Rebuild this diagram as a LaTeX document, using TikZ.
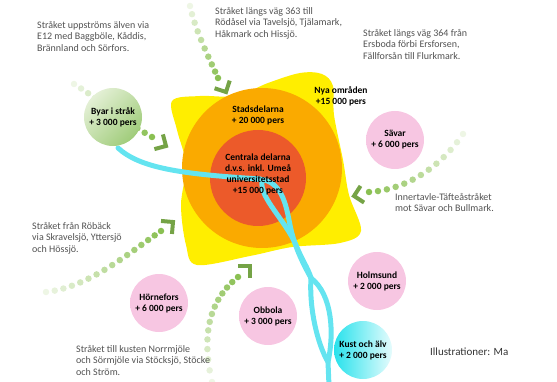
\documentclass[tikz,border=0pt]{standalone}
\usepackage{fontspec}
\setmainfont{Carlito}
\usetikzlibrary{calc}

\definecolor{sunyellow}{RGB}{255,238,0}
\definecolor{cityorange}{RGB}{250,170,0}
\definecolor{corered}{RGB}{236,90,42}
\definecolor{rivercyan}{RGB}{100,228,240}
\definecolor{dotgreen}{RGB}{138,192,82}
\definecolor{villpink}{RGB}{247,198,226}
\definecolor{kustcyan}{RGB}{40,226,236}
\definecolor{byarlight}{RGB}{228,240,214}
\definecolor{byargreen}{RGB}{160,204,122}
\definecolor{textgray}{RGB}{82,82,82}

\pgfdeclareradialshading{pinkglow}{\pgfpoint{0bp}{0bp}}{color(0bp)=(villpink); color(38bp)=(villpink); color(50bp)=(villpink!35!white); color(70bp)=(white)}

\tikzset{
  desc/.style={anchor=north west, inner sep=0pt, align=left, text=textgray,
    font=\fontsize{10}{11.7}\selectfont},
  zonetext/.style={align=center, inner sep=0pt, font=\bfseries\fontsize{9.5}{11}\selectfont},
  village/.style={circle, minimum size=58pt, inner sep=0pt, align=center,
    font=\bfseries\fontsize{9.5}{11}\selectfont},
  pinkvill/.style={village, shading=pinkglow},
  river/.style={draw=rivercyan, line width=5pt, line cap=round},
  gdot/.style={circle, fill=dotgreen, inner sep=0pt, minimum size=6.5pt},
  chevron/.style={draw=dotgreen!85!black, line width=4pt},
}

\begin{document}
\begin{tikzpicture}[x=1pt,y=-1pt]
  \useasboundingbox (0,0) rectangle (557,382);

  % zones round the centre
  \fill[sunyellow] plot[smooth cycle, tension=0.55] coordinates {
    (172,101) (200,96) (236,96) (268,83) (300,73) (322,74) (333,86)
    (334,115) (343,160) (349,195) (361,231) (340,243) (292,247)
    (250,256) (197,265) (186,245) (181,205) (186,165) (177,130)};
  \fill[cityorange] (262,168) circle (80);
  \fill[corered] (258,178) circle (48);

  % the river
  \draw[river] (118,148) .. controls (140,168) and (180,174) .. (260,179);
  \draw[river] (255,179) .. controls (282,178) and (286,205) .. (290,225)
    .. controls (294,245) and (302,262) .. (311,278);
  \draw[river] (262,182) .. controls (260,198) and (285,220) .. (296,245)
    .. controls (302,260) and (308,268) .. (311,278);
  \draw[river] (311,278) .. controls (309,310) and (318,345) .. (328,362);
  \draw[river] (311,278) .. controls (333,295) and (334,335) .. (328,362)
    -- (329,386);

  % dotted arrows
  \coordinate (s1) at (190,6);   \coordinate (c1) at (195,30);
  \coordinate (d1) at (210,60);  \coordinate (e1) at (218,78);
  \coordinate (t1) at (226,92);
  \coordinate (s2) at (74,84);   \coordinate (c2) at (100,100);
  \coordinate (d2) at (125,122); \coordinate (e2) at (152,137);
  \coordinate (t2) at (166,146);
  \coordinate (s3) at (463,134); \coordinate (c3) at (440,168);
  \coordinate (d3) at (405,190); \coordinate (e3) at (369,192);
  \coordinate (t3) at (354,196);
  \coordinate (s4) at (46,292);  \coordinate (c4) at (90,287);
  \coordinate (d4) at (130,252); \coordinate (e4) at (161,231);
  \coordinate (t4) at (173,222);
  \coordinate (s5) at (212,382); \coordinate (c5) at (200,330);
  \coordinate (d5) at (212,298); \coordinate (e5) at (238,277);
  \coordinate (t5) at (250,266);

  \foreach \i/\a/\n in {1/63/9, 2/30/11, 3/168/12, 4/-40/15, 5/-45/13}{
    \foreach \k in {0,...,\n}{
      \pgfmathsetmacro\p{\k/\n}
      \pgfmathsetmacro\o{0.15+0.85*\k/\n}
      \path (s\i) .. controls (c\i) and (d\i) .. (e\i)
        node[gdot, pos=\p, opacity=\o] {};
    }
    \draw[chevron] ($(t\i)+(\a+135:12)$) -- (t\i) -- ($(t\i)+(\a-135:12)$);
  }

  % villages
  \node[village, top color=byarlight, bottom color=byargreen, shading angle=45]
    (byar) at (113,117) {Byar i stråk\\+ 3 000 pers};
  \node[pinkvill] (savar) at (395,140) {Sävar\\+ 6 000 pers};
  \node[pinkvill] (hornefors) at (159,303) {Hörnefors\\+ 6 000 pers};
  \node[pinkvill] (obbola) at (268,316) {Obbola\\+ 3 000 pers};
  \node[pinkvill] (holmsund) at (377,281) {Holmsund\\+ 2 000 pers};
  \node[village, left color=kustcyan, right color=kustcyan!12!white]
    (kust) at (363,350) {Kust och älv\\+ 2 000 pers};

  % zone texts
  \node[zonetext] (stad) at (258,115) {Stadsdelarna\\+ 20 000 pers};
  \node[zonetext] (central) at (258,174)
    {Centrala delarna\\d.v.s. inkl. Umeå\\universitetsstad\\+15 000 pers};
  \node[zonetext] (nya) at (341,96) {Nya områden\\+15 000 pers};

  % route descriptions
  \node[desc] (e12) at (37,21)
    {Stråket uppströms älven via\\E12 med Baggböle, Kåddis,\\Brännland och Sörfors.};
  \node[desc] (v363) at (215,7)
    {Stråket längs väg 363 till\\Rödåsel via Tavelsjö, Tjälamark,\\Håkmark och Hissjö.};
  \node[desc] (v364) at (363,29)
    {Stråket längs väg 364 från\\Ersboda förbi Ersforsen,\\Fällforsån till Flurkmark.};
  \node[desc] (inner) at (395,193)
    {Innertavle-Täfteåstråket\\mot Sävar och Bullmark.};
  \node[desc] (robeck) at (32,222)
    {Stråket från Röbäck\\via Skravelsjö, Yttersjö\\och Hössjö.};
  \node[desc] (kusten) at (76,345)
    {Stråket till kusten Norrmjöle\\och Sörmjöle via Stöcksjö, Stöcke\\och Ström.};
  \node[anchor=north west, inner sep=0pt, text=black!80,
    font=\fontsize{11}{13}\selectfont] (illu) at (430,348) {Illustrationer: Ma};
\end{tikzpicture}
\end{document}
